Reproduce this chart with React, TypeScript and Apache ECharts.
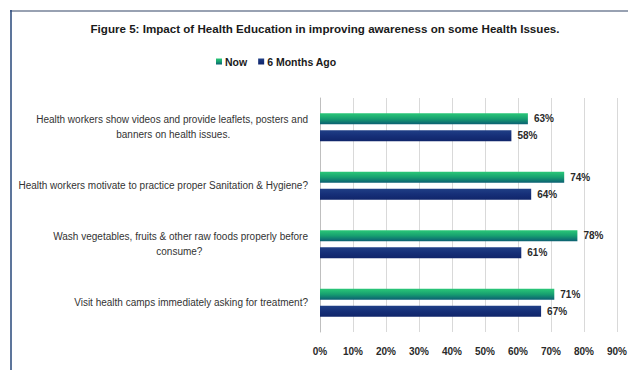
import React, { useEffect, useRef } from "react";
import * as echarts from "echarts";

const categories = [
  "Health workers show videos and provide leaflets, posters and\nbanners on health issues.",
  "Health workers motivate to practice proper Sanitation & Hygiene?",
  "Wash vegetables, fruits & other raw foods properly before\nconsume?",
  "Visit health camps immediately asking for treatment?",
];
const nowValues = [63, 74, 78, 71];
const sixMonthsValues = [58, 64, 61, 67];
const seriesNames = ["Now", "6 Months Ago"];
const titleText = "Figure 5: Impact of Health Education in improving awareness on some Health Issues.";

const SANS = "'Liberation Sans', Arial, sans-serif";
const NBSP = "\u00a0";

function measure(text: string, font: string): number {
  const c = document.createElement("canvas").getContext("2d");
  if (!c) return text.length * 5;
  c.font = font;
  return c.measureText(text).width;
}

// centre the shorter lines of a wrapped label inside its right-aligned block
function centreLines(label: string): string {
  const font = "10px 'Liberation Sans', Arial, sans-serif";
  const lines = label.split("\n");
  if (lines.length < 2) return label;
  const widths = lines.map((l) => measure(l, font));
  const w = Math.max(...widths);
  const sp = measure(NBSP, font) || 2.78;
  return lines
    .map((l, i) => l + NBSP.repeat(Math.round((w - widths[i]) / 2 / sp)))
    .join("\n");
}

export default function App() {
  const ref = useRef<HTMLDivElement>(null);
  useEffect(() => {
    if (!ref.current) return;
    const chart = echarts.init(ref.current, undefined, { renderer: "svg" });
    const green = new echarts.graphic.LinearGradient(0, 0, 0, 1, [
      { offset: 0, color: "#2bc878" },
      { offset: 0.5, color: "#17a070" },
      { offset: 1, color: "#0b5f72" },
    ]);
    const navy = new echarts.graphic.LinearGradient(0, 0, 0, 1, [
      { offset: 0, color: "#203f86" },
      { offset: 0.5, color: "#162f78" },
      { offset: 1, color: "#10256a" },
    ]);
    const labelStyle = {
      show: true,
      position: "right" as const,
      distance: 6,
      formatter: "{c}%",
      fontFamily: SANS,
      fontWeight: "bold" as const,
      fontSize: 10,
      color: "#2a2a2a",
    };
    chart.setOption({
      animation: false,
      backgroundColor: "#ffffff",
      title: {
        text: titleText,
        left: 320,
        textAlign: "center",
        top: 17,
        textStyle: {
          fontFamily: SANS,
          fontWeight: "bold",
          fontSize: 11.6,
          color: "#1a1a1a",
        },
      },
      legend: {
        data: seriesNames,
        top: 51,
        left: 211,
        itemWidth: 6,
        itemHeight: 6,
        itemGap: 11,
        icon: "rect",
        textStyle: {
          fontFamily: SANS,
          fontWeight: "bold",
          fontSize: 10.5,
          color: "#1a1a1a",
          padding: [0, 0, 0, -2],
        },
      },
      graphic: [
        {
          type: "line",
          shape: { x1: 10, y1: 11, x2: 628, y2: 11 },
          style: { stroke: "#98a1b2", lineWidth: 2 },
        },
        {
          type: "line",
          shape: { x1: 11, y1: 10, x2: 11, y2: 370 },
          style: { stroke: "#27477a", lineWidth: 1.5 },
        },
      ],
      grid: { left: 320, right: 9, top: 98, bottom: 38, containLabel: false },
      xAxis: {
        type: "value",
        min: 0,
        max: 90,
        interval: 10,
        axisLine: { show: false },
        axisTick: { show: false },
        splitLine: { show: true, lineStyle: { color: "#d9d9d9", width: 1 } },
        axisLabel: {
          formatter: "{value}%",
          fontFamily: SANS,
          fontWeight: "bold",
          fontSize: 10,
          color: "#2a2a2a",
          margin: 14,
        },
      },
      yAxis: {
        type: "category",
        inverse: true,
        data: categories,
        axisLine: { show: true, lineStyle: { color: "#bfbfbf", width: 1 } },
        axisTick: { show: false },
        axisLabel: {
          margin: 12,
          color: "#333333",
          fontFamily: SANS,
          fontSize: 10,
          lineHeight: 15,
          formatter: (v: string) => centreLines(v),
        },
      },
      series: [
        {
          name: seriesNames[0],
          type: "bar",
          data: nowValues,
          barWidth: 11,
          barGap: "55%",
          itemStyle: { color: green },
          label: labelStyle,
        },
        {
          name: seriesNames[1],
          type: "bar",
          data: sixMonthsValues,
          barWidth: 11,
          itemStyle: { color: navy },
          label: labelStyle,
        },
      ],
    });
    return () => chart.dispose();
  }, []);
  return (
    <div
      ref={ref}
      style={{ width: 630, height: 370, position: "absolute", left: 0, top: 0 }}
    />
  );
}
